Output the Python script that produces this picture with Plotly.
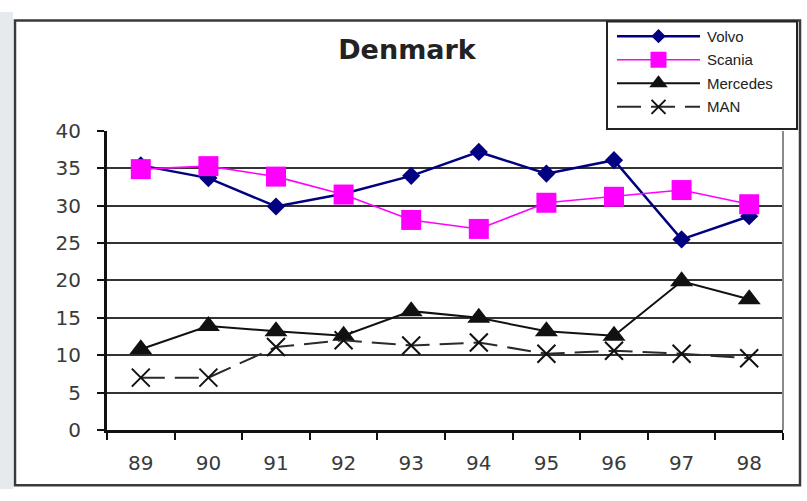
import plotly.graph_objects as go

# ---- data -------------------------------------------------------------
years = ["89", "90", "91", "92", "93", "94", "95", "96", "97", "98"]
volvo = [35.4, 33.7, 29.9, 31.6, 34.0, 37.2, 34.3, 36.1, 25.5, 28.6]
scania = [34.9, 35.3, 33.9, 31.5, 28.1, 26.9, 30.4, 31.2, 32.1, 30.2]
mercedes = [10.8, 13.9, 13.2, 12.6, 15.9, 15.0, 13.2, 12.6, 19.9, 17.5]
man = [7.0, 7.0, 11.1, 12.0, 11.3, 11.7, 10.2, 10.6, 10.2, 9.6]
y_ticks = [0, 5, 10, 15, 20, 25, 30, 35, 40]
series_names = ["Volvo", "Scania", "Mercedes", "MAN"]

W, H = 807, 501


def px(x):
    return x / W


def py(y):
    return 1 - y / H


styles = {
    "Volvo": dict(line=dict(color="#000080", width=2.5),
                  marker=dict(symbol="diamond", size=14, color="#000080")),
    "Scania": dict(line=dict(color="#FF00FF", width=1.6),
                   marker=dict(symbol="square", size=20, color="#FF00FF")),
    "Mercedes": dict(line=dict(color="#111111", width=2),
                     marker=dict(symbol="triangle-up", size=20, color="#111111")),
    "MAN": dict(line=dict(color="#2a2a2a", width=2, dash="24px,10px"),
                marker=dict(symbol="x-thin-open", size=18, color="#111111",
                            line=dict(color="#111111", width=2))),
}
values = {"Volvo": volvo, "Scania": scania, "Mercedes": mercedes, "MAN": man}

fig = go.Figure()
for name in series_names:
    fig.add_trace(go.Scatter(
        x=years, y=values[name], name=name, mode="lines+markers",
        xaxis="x", yaxis="y", showlegend=False, cliponaxis=False,
        **styles[name]))

# ---- legend keys on a hidden helper axis -------------------------------
key_line_x = [0, 1]
key_marker_x = [0.5]
for row, name in enumerate(series_names, start=1):
    st = styles[name]
    mk = dict(st["marker"])
    mk["size"] = round(mk["size"] * 0.8)
    fig.add_trace(go.Scatter(
        x=key_line_x, y=[row] * 2, mode="lines", xaxis="x2", yaxis="y2",
        showlegend=False, hoverinfo="skip", cliponaxis=False,
        line=st["line"]))
    fig.add_trace(go.Scatter(
        x=key_marker_x, y=[row], mode="markers", xaxis="x2", yaxis="y2",
        showlegend=False, hoverinfo="skip", cliponaxis=False, marker=mk))

legend_text = [
    dict(text=n, xref="paper", yref="y2", x=px(705), y=i, xanchor="left",
         yanchor="middle", showarrow=False,
         font=dict(family="Liberation Sans", size=15, color="#222222"))
    for i, n in enumerate(series_names, start=1)
]

shapes = [
    # grey strip at the left edge
    dict(type="rect", xref="paper", yref="paper", x0=0, x1=px(13), y0=0, y1=1,
         fillcolor="#e6e9ee", line=dict(width=0), layer="below"),
    # outer chart frame
    dict(type="rect", xref="paper", yref="paper", x0=px(15), x1=px(800),
         y0=py(497), y1=py(9), fillcolor="white",
         line=dict(color="#3a3a3a", width=2.5), layer="below"),
    # plot-area right border
    dict(type="line", xref="x domain", yref="y domain", x0=1, x1=1, y0=0, y1=1,
         line=dict(color="#8a8a8a", width=2)),
    # legend box
    dict(type="rect", xref="paper", yref="paper", x0=px(607), x1=px(797),
         y0=py(123), y1=py(10), fillcolor="white",
         line=dict(color="#222222", width=2), layer="below"),
]

tick_font = dict(family="DejaVu Sans", size=20, color="#3a3a3a")

fig.update_layout(
    width=W, height=H,
    margin=dict(l=0, r=0, t=0, b=0),
    paper_bgcolor="white", plot_bgcolor="white",
    title=dict(text="<b>Denmark</b>", x=px(407), y=py(39),
               xanchor="center", yanchor="middle", xref="paper", yref="paper",
               font=dict(family="DejaVu Sans", size=27, color="#222222")),
    xaxis=dict(domain=[px(107), px(783)], type="category",
               range=[-0.5, len(years) - 0.5], tickson="boundaries",
               ticks="outside", ticklen=7, tickwidth=2, tickcolor="#111111",
               showline=True, linecolor="#111111", linewidth=3,
               showgrid=False, zeroline=False, tickfont=tick_font,
               ticklabelstandoff=13, fixedrange=True),
    yaxis=dict(domain=[py(439), py(125)], range=[0, 40], tickvals=y_ticks,
               ticks="outside", ticklen=7, tickwidth=2, tickcolor="#111111",
               showline=True, linecolor="#111111", linewidth=3,
               showgrid=True, gridcolor="#333333", gridwidth=2,
               zeroline=False, tickfont=tick_font, ticklabelstandoff=12,
               fixedrange=True),
    xaxis2=dict(domain=[px(617), px(700)], range=[0, 1], anchor="y2",
                visible=False, fixedrange=True),
    yaxis2=dict(domain=[py(112), py(13)], range=[4.5, 0.5], anchor="x2",
                visible=False, fixedrange=True),
    shapes=shapes,
    annotations=legend_text,
    showlegend=False,
)

fig.write_html("out.html")
